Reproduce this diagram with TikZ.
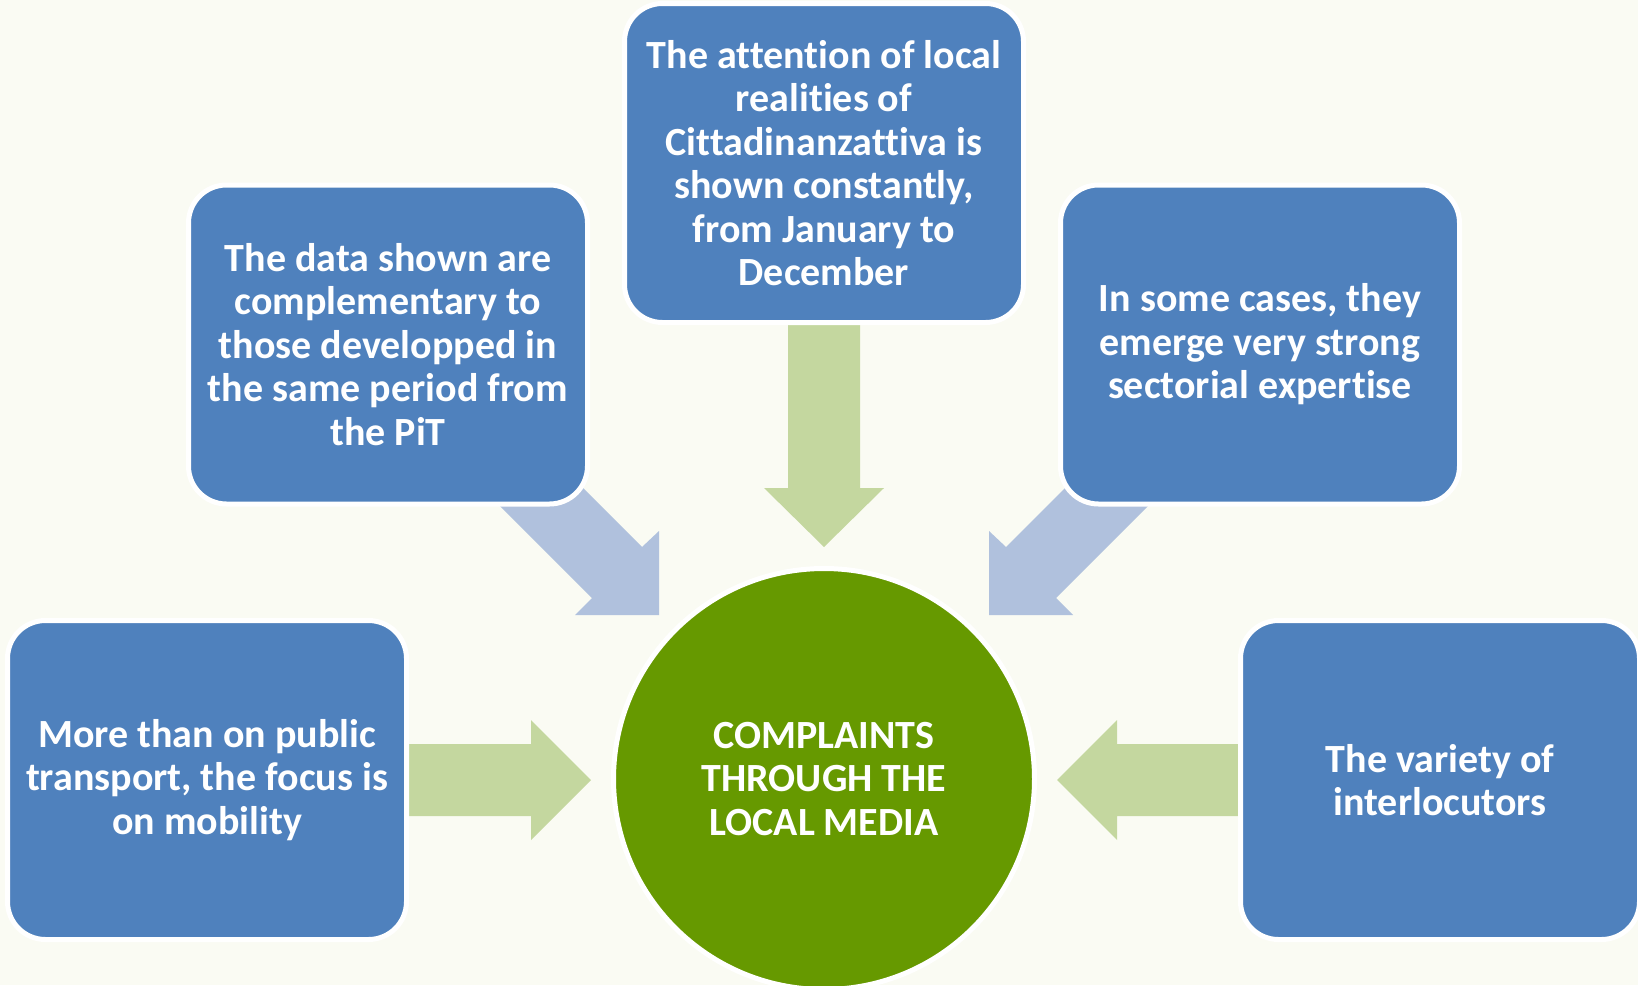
\documentclass[tikz,border=0pt]{standalone}
\usepackage{fontspec}
\setmainfont{Carlito}[RawFeature=-liga]
\definecolor{bgc}{HTML}{FAFBF3}
\definecolor{boxc}{HTML}{4F81BD}
\definecolor{grn}{HTML}{669900}
\definecolor{lgrn}{HTML}{C4D79F}
\definecolor{lblu}{HTML}{B0C1DD}
\begin{document}
\begin{tikzpicture}[x=1pt,y=-1pt,
  box/.style={fill=boxc, draw=white, line width=5pt, rounded corners=38pt,
    minimum width=399pt, minimum height=319pt, align=center, text=white,
    font=\fontsize{40}{43.5}\selectfont\bfseries, inner sep=0pt},
  hub/.style={circle, fill=grn, draw=white, line width=5pt, minimum size=421pt,
    align=center, text=white, font=\fontsize{40}{43.5}\selectfont\bfseries, inner sep=0pt},
  garrow/.style={fill=lgrn},
  barrow/.style={fill=lblu}]
\fill[bgc] (0,0) rectangle (1638,985);
\useasboundingbox (0,0) rectangle (1638,985);
% arrows
\fill[garrow] (788,325) -- (860,325) -- (860,488) -- (884,488) -- (824,547) -- (764,488) -- (788,488) -- cycle;
\fill[barrow] (480,486) -- (570,475) -- (642,547) -- (659,531) -- (659,615) -- (575,615) -- (592,598) -- cycle;
\fill[barrow] (1168,486) -- (1078,475) -- (1006,547) -- (989,531) -- (989,615) -- (1073,615) -- (1056,598) -- cycle;
\fill[garrow] (400,744) -- (531,744) -- (531,720) -- (591,780) -- (531,840) -- (531,816) -- (400,816) -- cycle;
\fill[garrow] (1248,744) -- (1117,744) -- (1117,720) -- (1057,780) -- (1117,840) -- (1117,816) -- (1248,816) -- cycle;
% boxes
\node[box] (ll) at (207,780) {More than on public\\transport, the focus is\\on mobility};
\node[box] (ul) at (388,344.5) {The data shown are\\complementary to\\those developped in\\the same period from\\the PiT};
\node[box] (tc) at (824,163) {The attention of local\\realities of\\Cittadinanzattiva is\\shown constantly,\\from January to\\December};
\node[box] (ur) at (1260,344.5) {In some cases, they\\emerge very strong\\sectorial expertise};
\node[box] (lr) at (1440,780) {The variety of\\interlocutors};
\node[hub] (hub) at (824,779) {COMPLAINTS\\THROUGH THE\\LOCAL MEDIA};
\end{tikzpicture}
\end{document}
